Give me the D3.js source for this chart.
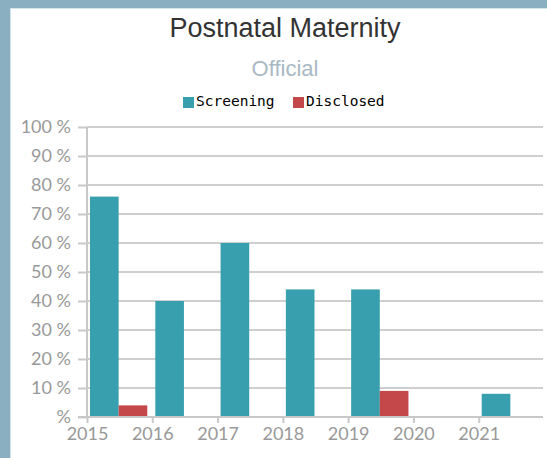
<!DOCTYPE html>
<html>
<head>
<meta charset="utf-8">
<script src="https://cdn.jsdelivr.net/npm/d3@7"></script>
<style>
  body { margin: 0; background: #fff; }
  svg { display: block; }
</style>
</head>
<body>
<svg width="547" height="458"></svg>
<script>
var svg = d3.select('svg');

// data
var years = [2015, 2016, 2017, 2018, 2019, 2020, 2021];
var seriesNames = ["Screening", "Disclosed"];
var screening = [76, 40, 60, 44, 44, null, 8];
var disclosed = [4, null, null, null, 9, null, null];
var yTicks = [0, 10, 20, 30, 40, 50, 60, 70, 80, 90, 100];
var colors = ["#379fae", "#c4474a"];

// frame
svg.append("rect").attr("x", 0).attr("y", 0).attr("width", 547).attr("height", 458).attr("fill", "#fff");
svg.append("rect").attr("x", 0).attr("y", 0).attr("width", 547).attr("height", 8).attr("fill", "#89afc0");
svg.append("rect").attr("x", 0).attr("y", 0).attr("width", 10).attr("height", 458).attr("fill", "#89afc0");
svg.append("rect").attr("x", 10).attr("y", 8).attr("width", 537).attr("height", 1).attr("fill", "#d3e4ea");
svg.append("rect").attr("x", 10).attr("y", 8).attr("width", 1).attr("height", 450).attr("fill", "#d3e4ea");

var pLeft = 87, pRight = 544, pTop = 127, pBottom = 417;

var x = d3.scaleLinear().domain([2015, 2022]).range([pLeft, pRight]);
var bw = x(2016) - x(2015);
var x1 = d3.scaleBand().domain(seriesNames).range([3, bw - 5]);
var y = d3.scaleLinear().domain([0, 100]).range([pBottom, pTop]);

// titles
svg.append("text").attr("x", 285).attr("y", 37).attr("text-anchor", "middle")
  .style("font-family", "Liberation Sans, Arial").style("font-size", "27px").attr("fill", "#333")
  .text("Postnatal Maternity");
svg.append("text").attr("x", 285).attr("y", 76).attr("text-anchor", "middle")
  .style("font-family", "Liberation Sans, Arial").style("font-size", "22px").attr("fill", "#a9b9c4")
  .text("Official");

// legend
var legend = svg.append("g").attr("transform", "translate(183,96)");
var lx = [0, 110];
seriesNames.forEach(function(s, i) {
  legend.append("rect").attr("x", lx[i]).attr("y", 1).attr("width", 11).attr("height", 11).attr("fill", colors[i]);
  legend.append("text").attr("x", lx[i] + 13).attr("y", 10)
    .style("font-family", "DejaVu Sans Mono, monospace").style("font-size", "14.5px").attr("fill", "#000")
    .text(s);
});

// grid
svg.append("g").selectAll("line").data(yTicks.slice(1)).enter().append("line")
  .attr("x1", pLeft).attr("x2", 543)
  .attr("y1", function(d) { return y(d); }).attr("y2", function(d) { return y(d); })
  .attr("stroke", "#cfcfcf").attr("stroke-width", 2);

// bars
var rows = years.map(function(yr, i) {
  return { year: yr, values: [screening[i], disclosed[i]] };
});
var groups = svg.append("g").selectAll("g").data(rows).enter().append("g")
  .attr("transform", function(d) { return "translate(" + x(d.year) + ",0)"; });
groups.selectAll("rect")
  .data(function(d) {
    return seriesNames.map(function(s, j) { return { name: s, value: d.values[j], i: j }; })
      .filter(function(e) { return e.value != null; });
  })
  .enter().append("rect")
  .attr("x", function(d) { return x1(d.name); })
  .attr("width", x1.bandwidth())
  .attr("y", function(d) { return y(d.value); })
  .attr("height", function(d) { return y(0) - y(d.value); })
  .attr("fill", function(d) { return colors[d.i]; });

// axes
var yAxis = svg.append("g").attr("transform", "translate(" + pLeft + ",0)")
  .call(d3.axisLeft(y).tickValues(yTicks).tickSize(9).tickPadding(7)
    .tickFormat(function(d) { return d === 0 ? "%" : d + " %"; }));
var xAxis = svg.append("g").attr("transform", "translate(0," + pBottom + ")")
  .call(d3.axisBottom(x).tickValues(years).tickSize(6).tickPadding(4).tickFormat(d3.format("d")));

[yAxis, xAxis].forEach(function(a) {
  a.select(".domain").attr("stroke", "#c8c8c8").attr("stroke-width", 2);
  a.selectAll(".tick line").attr("stroke", "#c8c8c8").attr("stroke-width", 2);
  a.selectAll("text").style("font-family", "Lato, sans-serif").style("font-size", "18px").attr("fill", "#999");
});
xAxis.select(".domain").attr("d", "M78,0H543");
yAxis.select(".domain").attr("d", "M0," + pTop + "V" + pBottom);
</script>
</body>
</html>
